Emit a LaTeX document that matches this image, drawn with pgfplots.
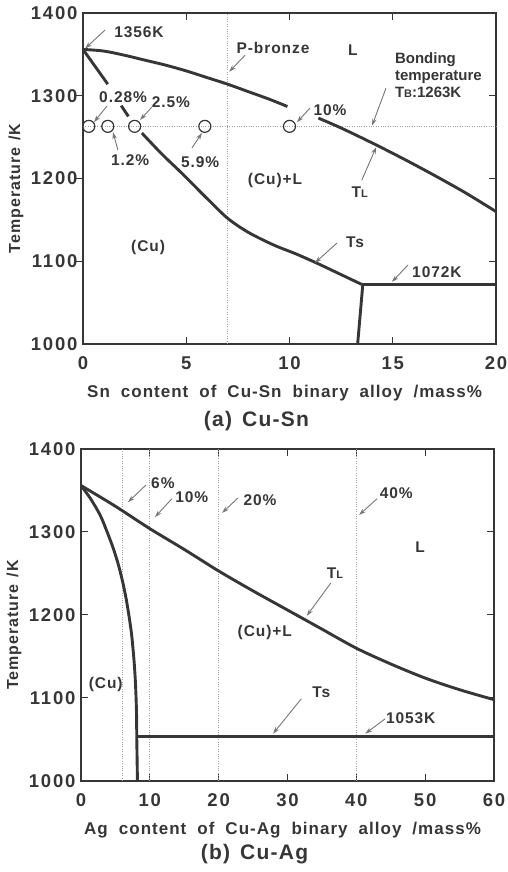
\documentclass[border=0pt]{standalone}
\usepackage{pgfplots}
\pgfplotsset{compat=1.18}
\usetikzlibrary{arrows.meta}
\usepackage{fontspec}
\setmainfont{Liberation Sans}
\newfontfamily\spaced[LetterSpace=6]{Liberation Sans}
\newfontfamily\wide[LetterSpace=10]{Liberation Sans}

\definecolor{ink}{HTML}{363636}
\definecolor{pointer}{HTML}{767676}
\definecolor{guide}{HTML}{A0A0A0}

\newcommand\fs[1]{\fontsize{#1}{#1}\selectfont}
\newcommand\sub[1]{{\fs{11}#1}}

\pgfplotsset{
  diagram/.style={
    scale only axis, width=413pt, clip=false,
    ymin=1000, ymax=1400, ytick={1000,1100,...,1400},
    axis line style={line width=1.5pt, draw=ink},
    tick align=inside, major tick length=7pt, tick pos=both,
    tick style={line width=1pt, draw=ink},
    every tick label/.append style={font=\wide\bfseries\fs{18.5}, text=ink},
    /pgf/number format/assume math mode=true,
    /pgf/number format/1000 sep={},
    xticklabel style={yshift=-9pt},
    yticklabel style={xshift=-2pt},
    ylabel={Temperature\hspace{7pt}/K},
    ylabel style={font=\spaced\bfseries\fs{16}, text=ink,
      at={(axis description cs:-0.162,0.47)}, anchor=center},
    xlabel style={font=\spaced\bfseries\fs{17}, text=ink,
      at={(axis description cs:0.488,-0.148)}, anchor=center},
  },
  phase/.style={line width=2.9pt, draw=ink, no markers},
  guideline/.style={line width=0.8pt, draw=guide, dash pattern=on 1pt off 1.4pt, no markers},
}
\tikzset{
  note/.style={font=\spaced\bfseries\fs{15.5}, text=ink, inner sep=0pt},
  caption/.style={font=\spaced\bfseries\fs{21}, text=ink, inner sep=0pt},
  pointer/.style={draw=pointer, line width=0.9pt, -{Stealth[length=7pt,width=4.5pt]}},
}
\newcommand\wordgap{\hspace{11pt}}

\begin{document}
\begin{tikzpicture}
\path[use as bounding box] (0,0) rectangle (507pt,872pt);

% ---------------- (a) Cu-Sn ----------------
\begin{axis}[diagram, at={(83pt,528pt)}, anchor=south west, height=331pt,
  xmin=0, xmax=20, xtick={0,5,...,20},
  ytick pos=right, yticklabel pos=left,
  xlabel={Sn\wordgap content\wordgap of\wordgap Cu-Sn\wordgap binary\wordgap alloy\wordgap /mass\%}]
  % reference guides: P-bronze composition and bonding temperature
  \addplot[guideline] coordinates {(7,1000) (7,1400)};
  \addplot[guideline] coordinates {(0,1263) (20,1263)};
  % liquidus
  \addplot[phase, smooth] coordinates {(0,1356) (1,1354) (2,1349) (3,1343) (4,1337) (5,1330) (6,1322) (7,1314) (8,1305) (9,1296) (9.9,1287)};
  \addplot[phase, smooth] coordinates {(11.4,1273) (12.5,1261) (14,1243) (15.5,1224) (17,1204) (18.5,1183) (20,1160)};
  % solidus
  \addplot[phase] coordinates {(0,1356) (0.6,1335) (1.2,1314)};
  \addplot[phase] coordinates {(1.85,1288) (2.2,1275)};
  \addplot[phase, smooth] coordinates {(2.85,1255) (3.8,1230) (4.8,1206) (6,1176) (7,1152) (8,1135) (9.2,1120) (10.3,1109) (11.3,1098) (12.4,1085) (13.5,1072)};
  % peritectic horizontal and phase boundary
  \addplot[phase] coordinates {(13.5,1072) (20,1072)};
  \addplot[phase] coordinates {(13.55,1072) (13.3,1000)};
  % alloys at the bonding temperature
  \addplot[only marks, mark=o, mark size=6pt, mark options={draw=ink, line width=1.2pt}]
    coordinates {(0.28,1263) (1.2,1263) (2.5,1263) (5.9,1263) (10,1263)};

  % outward ticks on the left edge
  \pgfplotsinvokeforeach{1100,1200,1300}{
    \draw[ink, line width=1pt] (axis cs:0,#1) -- ([xshift=-7pt]axis cs:0,#1);
  }

  \node[note] at (axis cs:2.71,1377) {1356K};
  \draw[pointer] (axis cs:1.07,1379.5) -- (axis cs:0.1,1357);
  \node[note] at (axis cs:9.2,1358) {P-bronze};
  \draw[pointer] (axis cs:7.85,1349) -- (axis cs:7.08,1329);
  \node[note] at (axis cs:13.07,1355) {L};
  \node[note, align=left, anchor=west, font=\bfseries\fs{15}] at (axis cs:15.1,1325)
    {Bonding\\[2pt]temperature\\[2pt]T\sub{B}:1263K};
  \draw[pointer] (axis cs:14.67,1309) -- (axis cs:14.0,1264);
  \node[note] at (axis cs:11.96,1283) {10\%};
  \draw[pointer] (axis cs:10.99,1285) -- (axis cs:10.36,1268);
  \node[note] at (axis cs:9.3,1198) {(Cu)+L};
  \node[note] at (axis cs:13.4,1184) {T\sub{L}};
  \draw[pointer] (axis cs:13.5,1198) -- (axis cs:14.2,1238);
  \node[note] at (axis cs:1.94,1298.5) {0.28\%};
  \draw[pointer] (axis cs:1.16,1287.6) -- (axis cs:0.53,1268);
  \node[note] at (axis cs:4.26,1292.5) {2.5\%};
  \draw[pointer] (axis cs:3.34,1286.4) -- (axis cs:2.76,1270.7);
  \node[note] at (axis cs:2.28,1222.4) {1.2\%};
  \draw[pointer] (axis cs:1.69,1234.4) -- (axis cs:1.45,1256);
  \node[note] at (axis cs:5.67,1220) {5.9\%};
  \draw[pointer] (axis cs:5.28,1237) -- (axis cs:5.76,1255);
  \node[note] at (axis cs:3.15,1117) {(Cu)};
  \node[note] at (axis cs:13.17,1123) {Ts};
  \draw[pointer] (axis cs:12.3,1122) -- (axis cs:11.23,1098);
  \node[note] at (axis cs:17.14,1087) {1072K};
  \draw[pointer] (axis cs:15.74,1095.5) -- (axis cs:14.96,1075);

  \node[caption] at (axis description cs:0.42,-0.232) {(a)\hspace{10pt}Cu-Sn};
\end{axis}

% ---------------- (b) Cu-Ag ----------------
\begin{axis}[diagram, at={(81pt,91pt)}, anchor=south west, height=332pt,
  xmin=0, xmax=60, xtick={0,10,...,60},
  xlabel={Ag\wordgap content\wordgap of\wordgap Cu-Ag\wordgap binary\wordgap alloy\wordgap /mass\%}]
  \addplot[guideline] coordinates {(6,1000) (6,1400)};
  \addplot[guideline] coordinates {(10,1000) (10,1400)};
  \addplot[guideline] coordinates {(20,1000) (20,1400)};
  \addplot[guideline] coordinates {(40,1000) (40,1400)};
  % liquidus
  \addplot[phase, smooth] coordinates {(0,1356) (5,1331) (10,1304) (15,1279) (20,1253) (25,1229) (30,1206) (35,1183) (40,1160) (45,1141) (50,1124) (55,1110) (60,1098)};
  % solidus / solvus of (Cu)
  \addplot[phase, smooth] coordinates {(0,1356) (1.4,1340) (2.8,1320) (3.8,1300) (4.7,1280) (5.45,1260) (6.05,1240) (6.55,1220) (6.95,1200) (7.3,1180) (7.55,1160) (7.75,1140) (7.9,1120) (8.0,1100) (8.07,1080) (8.1,1053)};
  \addplot[phase] coordinates {(8.1,1053) (8.2,1000)};
  % eutectic line
  \addplot[phase, line width=3.4pt] coordinates {(8.1,1053.4) (60,1053.4)};

  \node[note] at (axis cs:11.9,1359) {6\%};
  \draw[pointer] (axis cs:9.44,1356.6) -- (axis cs:6.83,1336);
  \node[note] at (axis cs:16.1,1342) {10\%};
  \draw[pointer] (axis cs:13.2,1340) -- (axis cs:10.75,1318);
  \node[note] at (axis cs:26.0,1338.6) {20\%};
  \draw[pointer] (axis cs:22.8,1341) -- (axis cs:20.5,1323);
  \node[note] at (axis cs:45.8,1347) {40\%};
  \draw[pointer] (axis cs:43.0,1340) -- (axis cs:40.4,1320.5);
  \node[note] at (axis cs:49.25,1282) {L};
  \node[note] at (axis cs:36.9,1250.6) {T\sub{L}};
  \draw[pointer] (axis cs:36.3,1238.6) -- (axis cs:32.8,1199);
  \node[note] at (axis cs:26.7,1179.5) {(Cu)+L};
  \node[note] at (axis cs:3.6,1115.7) {(Cu)};
  \node[note] at (axis cs:34.9,1107) {Ts};
  \draw[pointer] (axis cs:32.0,1099) -- (axis cs:27.9,1057);
  \node[note] at (axis cs:47.9,1076) {1053K};
  \draw[pointer] (axis cs:44.2,1075) -- (axis cs:41.3,1057);

  \node[caption] at (axis description cs:0.42,-0.22) {(b)\hspace{10pt}Cu-Ag};
\end{axis}
\end{tikzpicture}
\end{document}
